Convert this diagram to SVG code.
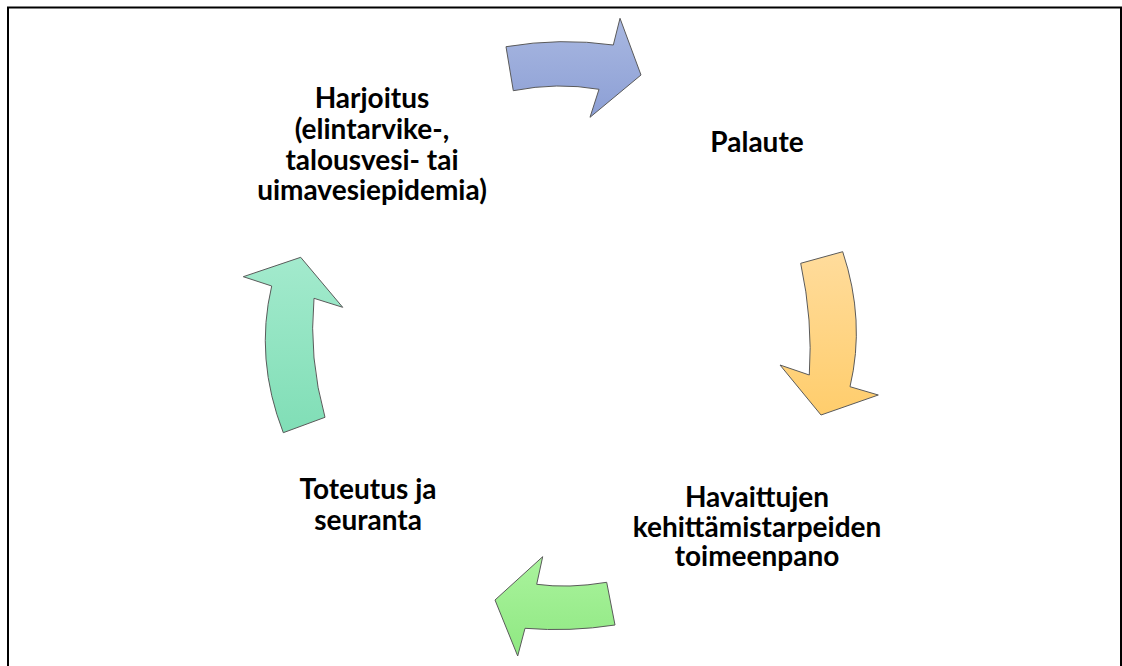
<svg xmlns="http://www.w3.org/2000/svg" width="1122" height="666" viewBox="0 0 1122 666">
<style>
.lbl{font-family:Lato,"Open Sans","Liberation Sans",sans-serif;font-weight:bold;font-size:28px;fill:#000;text-anchor:middle}
.arr{stroke:#5a5a5a;stroke-width:1;stroke-linejoin:miter}
</style>
<defs>
<linearGradient id="gBlue" x1="0" y1="0" x2="0" y2="1"><stop offset="0" stop-color="#a9b8e1"/><stop offset="1" stop-color="#8c9fd5"/></linearGradient>
<linearGradient id="gOrange" x1="0" y1="0" x2="0" y2="1"><stop offset="0" stop-color="#ffdc9c"/><stop offset="1" stop-color="#ffcd6c"/></linearGradient>
<linearGradient id="gGreen" x1="0" y1="0" x2="0" y2="1"><stop offset="0" stop-color="#aaf39d"/><stop offset="1" stop-color="#8fe882"/></linearGradient>
<linearGradient id="gTeal" x1="0" y1="0" x2="0" y2="1"><stop offset="0" stop-color="#a3eacd"/><stop offset="1" stop-color="#80deb6"/></linearGradient>
</defs>
<rect x="0" y="0" width="1122" height="666" fill="#fff"/>
<rect x="8" y="7.5" width="1113" height="700" fill="none" stroke="#000" stroke-width="2"/>
<g id="connectors">
<path class="arr" fill="url(#gBlue)" d="M506,46.7 Q560.3,37.5 613.3,45 L620,18.3 L641,75 L590,117.3 L599,89.3 Q557.2,82 513.3,90.7 Z"/>
<path class="arr" fill="url(#gOrange)" d="M842.7,251.7 Q865.7,320.8 850,386.7 L878.3,395 L821,415 L780,365 L809.3,375 Q813,320.8 800.7,263.3 Z"/>
<path class="arr" fill="url(#gGreen)" d="M615,625 Q570,632 525,628.3 L517.7,656 L495,600 L542.7,556.7 L536.7,584.3 Q568.3,588.7 606.7,582.3 Z"/>
<path class="arr" fill="url(#gTeal)" d="M283.3,432.7 Q254.5,358.7 271.7,286 L243.3,276.7 L300.7,257.3 L342.7,307.3 L314,298.3 Q308.5,358.2 325,417.3 Z"/>
</g>
<g id="node-harjoitus">
<text class="lbl" x="372" y="107.7">Harjoitus</text>
<text class="lbl" x="372" y="139">(elintarvike-,</text>
<text class="lbl" x="372" y="170">talousvesi- tai</text>
<text class="lbl" x="372" y="200">uimavesiepidemia)</text>
</g>
<g id="node-palaute">
<text class="lbl" x="757" y="152">Palaute</text>
</g>
<g id="node-havaittujen">
<text class="lbl" x="757" y="506.7">Havaittujen</text>
<text class="lbl" x="757" y="536.7">kehittämistarpeiden</text>
<text class="lbl" x="757" y="566">toimeenpano</text>
</g>
<g id="node-toteutus">
<text class="lbl" x="368" y="499">Toteutus ja</text>
<text class="lbl" x="368" y="530">seuranta</text>
</g>
</svg>
